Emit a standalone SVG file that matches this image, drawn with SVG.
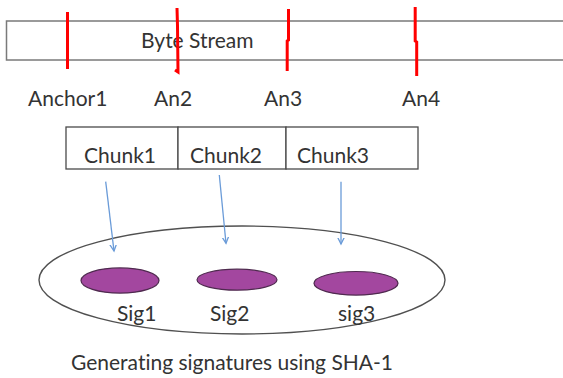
<svg xmlns="http://www.w3.org/2000/svg" width="563" height="378" viewBox="0 0 563 378">
<style>
  text { font-family: Lato, "Open Sans", "Liberation Sans", sans-serif; font-size: 21px; fill: #333333; font-variant-ligatures: none; }
  .box { fill: #ffffff; stroke: #7a7a7a; stroke-width: 1.5; }
  .cbox { fill: #ffffff; stroke: #4a4a4a; stroke-width: 1.3; }
  .anchor { fill: none; stroke: #ff0000; stroke-width: 3; stroke-linecap: butt; }
  .arrow { fill: none; stroke: #6a9bd8; stroke-width: 1.3; marker-end: url(#ah); }
  .sig { fill: #a3479f; stroke: #4f2a4f; stroke-width: 1.2; }
  .pool { fill: #ffffff; stroke: #505050; stroke-width: 1.4; }
</style>
<defs>
  <marker id="ah" markerWidth="12" markerHeight="12" refX="6" refY="6" orient="auto" markerUnits="userSpaceOnUse">
    <path d="M-2,2 L6,6 L-2,10" fill="none" stroke="#6a9bd8" stroke-width="1.3"/>
  </marker>
</defs>
<rect width="563" height="378" fill="#ffffff"/>

<g id="byte-stream">
  <rect class="box" x="6.5" y="21" width="570" height="39"/>
  <text x="141" y="48">Byte Stream</text>
</g>

<g id="anchors">
  <path class="anchor" d="M67.5,12 L67.5,69"/>
  <path class="anchor" d="M177,8 L177.5,26 L178,72 L175,70"/>
  <path class="anchor" d="M288.5,9 L288.5,40 L287.2,41 L287.2,71"/>
  <path class="anchor" d="M415.2,7 L415.2,41 L416.7,42 L416.7,76"/>
  <text x="28" y="106">Anchor1</text>
  <text x="154" y="106">An2</text>
  <text x="264" y="106">An3</text>
  <text x="402" y="106">An4</text>
</g>

<g id="chunks">
  <rect class="cbox" x="66" y="127" width="112" height="42"/>
  <rect class="cbox" x="178" y="127" width="108" height="42"/>
  <rect class="cbox" x="286" y="127" width="132" height="42"/>
  <text x="84" y="163">Chunk1</text>
  <text x="190" y="163">Chunk2</text>
  <text x="297" y="163">Chunk3</text>
</g>

<g id="signature-pool">
  <ellipse class="pool" cx="242" cy="280" rx="203" ry="54"/>
</g>

<g id="sig1">
  <ellipse class="sig" cx="120" cy="280.5" rx="39" ry="12.6"/>
  <text x="117" y="321">Sig1</text>
</g>
<g id="sig2">
  <ellipse class="sig" cx="237" cy="279.7" rx="40" ry="10.5"/>
  <text x="210" y="321">Sig2</text>
</g>
<g id="sig3">
  <ellipse class="sig" cx="356" cy="283.3" rx="42" ry="11.8"/>
  <text x="338" y="321">sig3</text>
</g>

<g id="connectors">
  <path class="arrow" d="M105.7,181.7 L114,251"/>
  <path class="arrow" d="M219.3,175 L226,243.3"/>
  <path class="arrow" d="M341,181.7 L341,244"/>
</g>

<g id="caption">
  <text x="71" y="370">Generating signatures using SHA-1</text>
</g>
</svg>
